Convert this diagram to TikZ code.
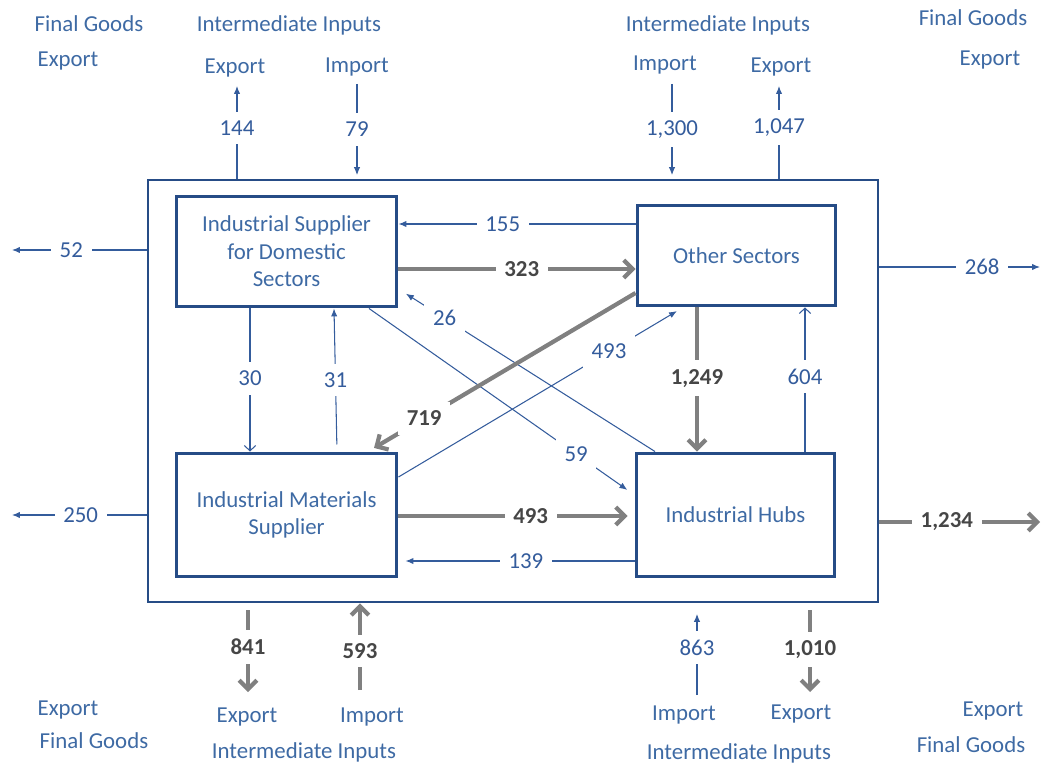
\documentclass[tikz,border=0pt]{standalone}
\usepackage{fontspec}
\setmainfont{Carlito}
\usetikzlibrary{arrows.meta}

\definecolor{frameblue}{RGB}{38,76,134}
\definecolor{lineblue}{RGB}{52,92,156}
\definecolor{textblue}{RGB}{62,106,164}
\definecolor{flowgray}{RGB}{128,128,128}
\definecolor{valgray}{RGB}{70,70,70}

\begin{document}
\begin{tikzpicture}[
    x=0.02cm, y=-0.02cm,
    font=\fontsize{13}{15.6}\selectfont, text=textblue,
    sector/.style={draw=frameblue, line width=1.7pt, align=center, inner sep=0pt},
    minor/.style={lineblue, line width=0.6pt, -{Latex[length=4.5pt,width=3.6pt]}},
    openminor/.style={minor, -{Straight Barb[length=3pt,width=6.5pt]}},
    major/.style={flowgray, line width=2.4pt, -{Straight Barb[length=5pt,width=10pt]}},
    val/.style={fill=white, inner sep=5pt},
    bigval/.style={val, text=valgray, font=\fontsize{13}{15.6}\selectfont\bfseries}
]
\useasboundingbox (0,0) rectangle (1041,763);

% region and sectors
\node[sector, line width=1.6pt, minimum width=14.6cm, minimum height=8.44cm] (region) at (513,391) {};
\node[sector, minimum width=4.42cm, minimum height=2.22cm] (isds) at (286.5,251.5) {Industrial Supplier\\for Domestic\\Sectors};
\node[sector, minimum width=3.98cm, minimum height=2.02cm] (os) at (736.5,255.5) {Other Sectors};
\node[sector, minimum width=4.42cm, minimum height=2.48cm] (ims) at (286.5,515) {Industrial Materials\\Supplier};
\node[sector, minimum width=3.98cm, minimum height=2.48cm] (ih) at (735.5,515) {Industrial Hubs};

% captions
\node at (89,24) {Final Goods};
\node at (68,61) {Export};
\node at (289,25) {Intermediate Inputs};
\node at (235,68) {Export};
\node at (357,67) {Import};
\node at (718,25) {Intermediate Inputs};
\node at (665,65) {Import};
\node at (781,67) {Export};
\node at (973,18) {Final Goods};
\node at (990,60) {Export};
\node at (68,710) {Export};
\node at (94,741) {Final Goods};
\node at (247,717) {Export};
\node at (372,717) {Import};
\node at (304,752) {Intermediate Inputs};
\node at (684,715) {Import};
\node at (801,714) {Export};
\node at (739,753) {Intermediate Inputs};
\node at (993,711) {Export};
\node at (971,745) {Final Goods};

% free ends
\coordinate (out52) at (12,250);
\coordinate (out250) at (12,515);
\coordinate (out268) at (1040,267);
\coordinate (out1234) at (1040,522);
\coordinate (up144) at (237,86);
\coordinate (in79) at (357,84);
\coordinate (in1300) at (672,84);
\coordinate (up1047) at (779,86);
\coordinate (dn841) at (248,692);
\coordinate (in593) at (360,690);
\coordinate (in863) at (697,695);
\coordinate (dn1010) at (810,692);

% flows between sectors
\draw[minor] (os.west |- 0,224) -- node[val, pos=0.56] {155} (isds.east |- 0,224);
\draw[major] (isds.east |- 0,269) -- node[bigval, pos=0.52] {323} (os.west |- 0,269);
\draw[minor, shorten >=5pt] (ih.north -| 655,0) -- node[val, pos=0.82] {26} (isds.east |- 0,289);
\draw[minor, shorten >=5pt] (isds.south -| 369,0) -- node[val, pos=0.78] {59} (ih.west |- 0,495);
\draw[major, shorten >=4pt] (os.west |- 0,293) -- node[bigval, pos=0.79] {719} (ims.north -| 368,0);
\draw[minor, shorten >=4pt] (ims.east |- 0,477) -- node[val, pos=0.74] {493} (os.south -| 683,0);
\draw[openminor] (isds.south -| 250,0) -- node[val, pos=0.49] {30} (ims.north -| 250,0);
\draw[minor, shorten <=4pt] (ims.north -| 337,0) -- node[val, pos=0.5] {31} (isds.south -| 334,0);
\draw[major] (os.south -| 697,0) -- node[bigval, pos=0.49] {1,249} (ih.north -| 697,0);
\draw[openminor] (ih.north -| 805,0) -- node[val, pos=0.52] {604} (os.south -| 805,0);
\draw[major, shorten >=4pt] (ims.east |- 0,516) -- node[bigval, pos=0.56] {493} (ih.west |- 0,516);
\draw[minor, shorten >=4pt] (ih.west |- 0,561) -- node[val, pos=0.46] {139} (ims.east |- 0,561);

% flows across the region border
\draw[minor] (region.west |- 0,250) -- node[val, pos=0.56] {52} (out52);
\draw[minor] (region.west |- 0,515) -- node[val, pos=0.49] {250} (out250);
\draw[minor] (region.east |- 0,267) -- node[val, pos=0.64] {268} (out268);
\draw[major] (region.east |- 0,522) -- node[bigval, pos=0.42] {1,234} (out1234);
\draw[minor] (region.north -| 237,0) -- node[val, pos=0.55] {144} (up144);
\draw[minor, shorten >=2pt] (in79) -- node[val, pos=0.48] {79} (region.north -| 357,0);
\draw[minor, shorten >=2pt] (in1300) -- node[val, pos=0.48] {1,300} (region.north -| 672,0);
\draw[minor] (region.north -| 779,0) -- node[val, pos=0.55] {1,047} (up1047);
\draw[major, shorten <=4pt] (region.south -| 248,0) -- node[bigval, pos=0.49] {841} (dn841);
\draw[major] (in593) -- node[bigval, pos=0.45] {593} (region.south -| 360,0);
\draw[minor, shorten >=6pt] (in863) -- node[val, pos=0.52] {863} (region.south -| 697,0);
\draw[major, shorten <=4pt] (region.south -| 810,0) -- node[bigval, pos=0.52] {1,010} (dn1010);
\end{tikzpicture}
\end{document}
